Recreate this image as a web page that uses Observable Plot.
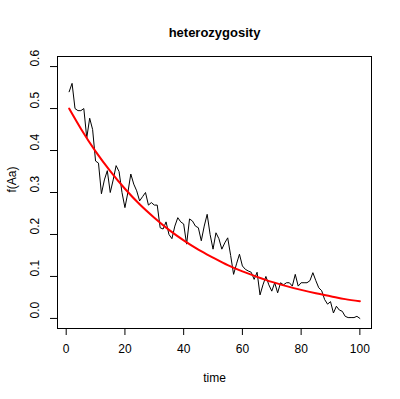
<!DOCTYPE html>
<html><head><meta charset="utf-8">
<script src="https://cdn.jsdelivr.net/npm/d3@7"></script>
<script src="https://cdn.jsdelivr.net/npm/@observablehq/plot@0.6"></script>
<style>body{margin:0;background:#fff}</style></head>
<body><div id="chart"></div>
<script>
const title = "heterozygosity";
const xLabel = "time";
const yLabel = "f(Aa)";
const xTicks = [0, 20, 40, 60, 80, 100];
const yTicks = [0, 0.1, 0.2, 0.3, 0.4, 0.5, 0.6];

// simulated heterozygosity, generations 1..100
const heterozygosity = [
  0.54, 0.56, 0.50, 0.495, 0.495, 0.50, 0.43, 0.477, 0.45, 0.375,
  0.37, 0.297, 0.33, 0.352, 0.30, 0.33, 0.364, 0.35, 0.30, 0.264,
  0.30, 0.344, 0.32, 0.304, 0.28, 0.29, 0.30, 0.27, 0.276, 0.27,
  0.27, 0.216, 0.213, 0.23, 0.20, 0.19, 0.22, 0.24, 0.23, 0.225,
  0.177, 0.237, 0.232, 0.22, 0.216, 0.185, 0.22, 0.248, 0.20, 0.165,
  0.204, 0.19, 0.165, 0.18, 0.192, 0.15, 0.105, 0.13, 0.153, 0.125,
  0.117, 0.113, 0.11, 0.093, 0.11, 0.056, 0.08, 0.10, 0.08, 0.065,
  0.085, 0.061, 0.085, 0.08, 0.085, 0.085, 0.077, 0.105, 0.077, 0.085,
  0.085, 0.085, 0.09, 0.109, 0.09, 0.073, 0.066, 0.045, 0.034, 0.04,
  0.013, 0.029, 0.02, 0.017, 0.005, 0.002, 0.002, 0.002, 0.005, 0.0
];

// expected curve (red), read at selected times
const expectedTime = [1, 5, 10, 15, 20, 25, 30, 35, 40, 45, 50, 55, 60, 65, 70, 75, 80, 85, 90, 95, 100];
const expectedValue = [0.500, 0.452, 0.398, 0.351, 0.309, 0.272, 0.240, 0.211, 0.186, 0.164, 0.145,
  0.127, 0.112, 0.099, 0.087, 0.077, 0.068, 0.060, 0.053, 0.046, 0.041];

const hetData = heterozygosity.map((v, i) => ({time: i + 1, value: v}));
const expData = expectedTime.map((t, i) => ({time: t, value: expectedValue[i]}));

const chart = Plot.plot({
  width: 400, height: 399,
  marginLeft: 57, marginRight: 29, marginTop: 56, marginBottom: 71,
  style: {fontFamily: "'Liberation Sans', Arial, sans-serif", fontSize: "12px", background: "#fff", color: "#000"},
  x: {domain: [-2.96, 103.96]},
  y: {domain: [-0.024, 0.624]},
  marks: [
    Plot.frame({stroke: "#000"}),
    Plot.axisX({ticks: xTicks, tickSize: 7, tickFormat: () => "", label: null}),
    Plot.axisY({ticks: yTicks, tickSize: 7, tickFormat: () => "", label: null}),
    Plot.text(xTicks, {x: d => d, text: d => String(d), frameAnchor: "bottom", lineAnchor: "middle", dy: 21}),
    Plot.text(yTicks, {y: d => d, text: d => d.toFixed(1), frameAnchor: "left", lineAnchor: "middle", dx: -22, rotate: -90}),
    Plot.line(hetData, {x: "time", y: "value", stroke: "#000", strokeWidth: 1}),
    Plot.line(expData, {x: "time", y: "value", stroke: "#ff0000", strokeWidth: 2, curve: "monotone-x"}),
    Plot.text([title], {frameAnchor: "top", lineAnchor: "middle", dy: -24, text: d => d, fontWeight: "bold", fontSize: 13}),
    Plot.text([xLabel], {frameAnchor: "bottom", lineAnchor: "middle", dy: 50, text: d => d}),
    Plot.text([yLabel], {frameAnchor: "left", lineAnchor: "middle", dx: -45, rotate: -90, text: d => d})
  ]
});
document.getElementById("chart").appendChild(chart);
</script>
</body></html>
